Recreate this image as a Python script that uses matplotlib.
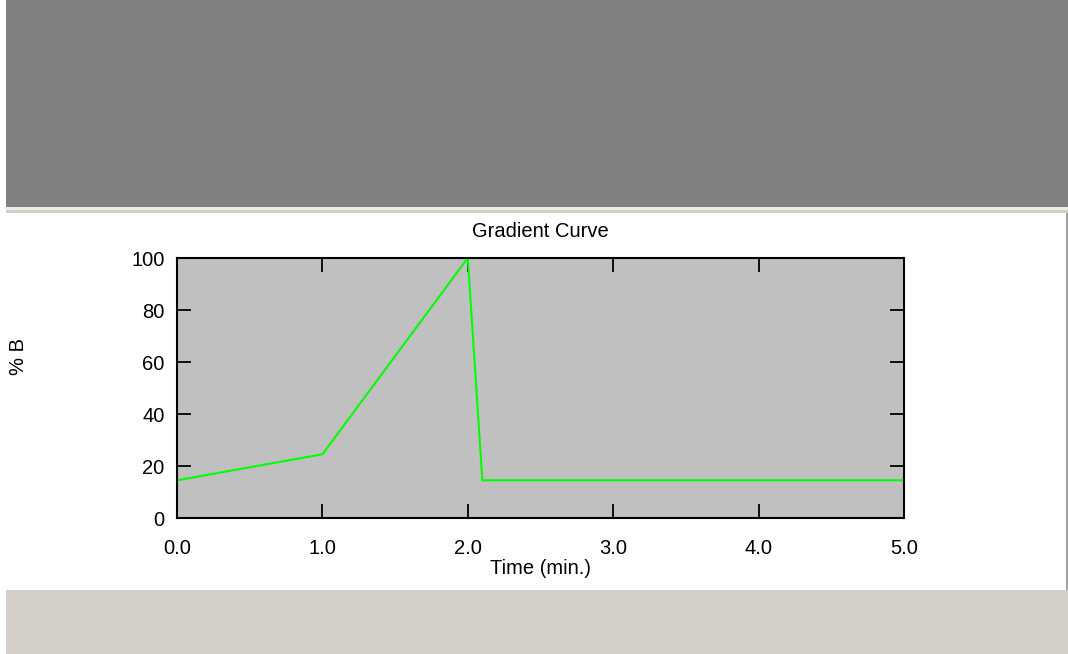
import matplotlib
matplotlib.use("Agg")
import matplotlib.pyplot as plt
from matplotlib.patches import Rectangle

# gradient program: time (min) vs %B
time_min = [0.0, 1.0, 2.0, 2.1, 5.0]
percent_b = [14.5, 24.5, 100.0, 14.5, 14.5]
x_ticks = [0, 1, 2, 3, 4, 5]
x_tick_labels = ["0.0", "1.0", "2.0", "3.0", "4.0", "5.0"]
y_ticks = [0, 20, 40, 60, 80, 100]

W, H = 1068, 654
plt.rcParams["font.family"] = ["Liberation Sans", "DejaVu Sans"]
fig = plt.figure(figsize=(W / 100, H / 100), dpi=100)
fig.patch.set_facecolor("white")


def px_rect(x0, y0, x1, y1, color):
    # rectangle in pixel coords (origin top-left)
    fig.patches.append(Rectangle((x0 / W, 1 - y1 / H), (x1 - x0) / W, (y1 - y0) / H,
                                 transform=fig.transFigure, facecolor=color,
                                 edgecolor="none", zorder=0))


# window chrome around the chart
px_rect(6, 0, W, 207, "#808080")
px_rect(6, 207, W, 210, "#ecebe6")
px_rect(6, 210, W, 213, "#d4d0c8")
px_rect(6, 590, W, H, "#d4d0c8")
px_rect(1066, 213, W, 590, "#a0a0a0")

fs = 14.5
left, right, top, bottom = 177, 904, 258, 518
ax = fig.add_axes([left / W, 1 - bottom / H, (right - left) / W, (bottom - top) / H])
ax.set_facecolor("#c0c0c0")
ax.plot(time_min, percent_b, color="#00ff00", linewidth=1.5)
ax.set_xlim(0, 5)
ax.set_ylim(0, 100)
ax.set_xticks(x_ticks)
ax.set_xticklabels(x_tick_labels)
ax.set_yticks(y_ticks)
for s in ax.spines.values():
    s.set_linewidth(1.5)
    s.set_color("black")
ax.tick_params(direction="in", length=10, width=1.3, top=True, right=True,
               labelsize=fs, colors="black")
ax.tick_params(axis="x", pad=15)
ax.tick_params(axis="y", pad=9)

ax.set_title("Gradient Curve", fontsize=fs, pad=15)
ax.set_xlabel("Time (min.)", fontsize=fs, labelpad=1)
fig.text(18 / W, 1 - 357 / H, "% B", rotation=90, fontsize=fs,
         ha="center", va="center")

fig.savefig("out.png", dpi=100)
